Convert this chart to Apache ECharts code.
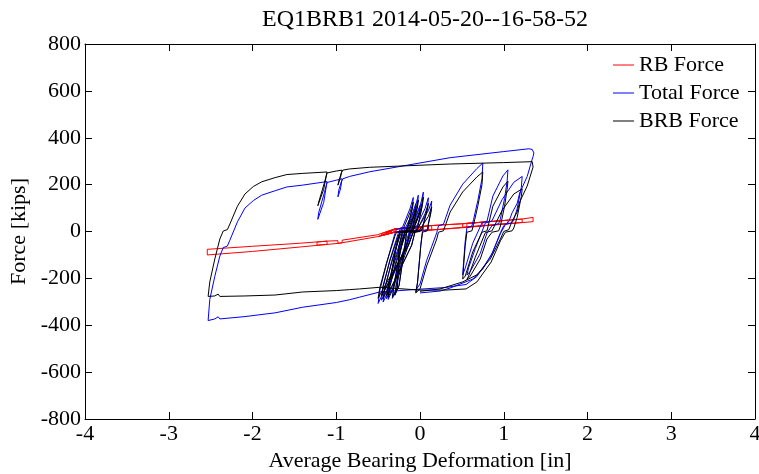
<!DOCTYPE html>
<html><head><meta charset="utf-8">
<script src="https://cdn.jsdelivr.net/npm/echarts@6/dist/echarts.min.js"></script>
<style>html,body{margin:0;padding:0;background:#fff}#c{width:759px;height:474px}</style>
</head><body><div id="c"></div>
<script>
const chartTitle = 'EQ1BRB1 2014-05-20--16-58-52';
const xName = 'Average Bearing Deformation [in]';
const yName = 'Force [kips]';
const seriesNames = ['RB Force', 'Total Force', 'BRB Force'];
const xTicks = [-4, -3, -2, -1, 0, 1, 2, 3, 4];
const yTicks = [-800, -600, -400, -200, 0, 200, 400, 600, 800];

// [deformation (in), force (kips)]
const rbForce = [
[0,0],[-0.30,-3],[-0.50,-22],[-0.50,-14],[-0.30,10],[-0.08,18],[-0.08,5],[-0.30,-2],[-0.44,-16],[-0.44,-8],
[-0.30,11],[-0.02,20],[-0.02,6],[-0.30,-1],[-0.38,-10],[-0.38,-3],[-0.30,11],[0.04,22],[0.04,6],[-0.30,-2],
[-0.46,-18],[-0.46,-9],[-0.30,11],[-0.05,19],[-0.05,4],[-0.30,-2],[-0.33,-5],[-0.33,3],[0.10,24],[0.10,6],
[-0.30,-2],[-0.40,-12],[-0.40,-2],[-0.30,11],[0.00,20],[0.00,5],[-0.30,-2],[-0.30,11],[0.14,25],[0.14,7],
[-0.05,3],[-0.05,19],[0.12,25],[0.50,33],[0.75,40],[0.75,24],[0.51,18],[0.51,33],[1.05,48],[1.05,34],
[0.56,19],[0.56,35],[1.22,53],[1.22,39],[0.55,19],[0.12,6],[-0.30,-2],[-0.51,-22],[-0.96,-50],[-1.43,-66],
[-2.00,-85],[-2.54,-100],[-2.54,-76],[-2.00,-63],[-1.43,-50],[-1.11,-41],[-1.11,-55],[-1.23,-58],[-1.23,-45],[-1.11,-41],
[-0.98,-39],[-0.98,-50],[-0.93,-48],[-0.93,-37],[-0.51,-14],[-0.30,11],[0.12,25],[0.50,33],[1.21,53],[1.35,60],
[1.35,42],[0.50,16],[0.12,6],[0.00,4]
];

const totalForce = [
[0,5],[-0.08,-1],[-0.14,-59],[-0.44,-261],[-0.50,-307],
[-0.48,-252],[-0.40,-137],[-0.30,-9],[-0.28,9],[-0.21,17],[-0.12,97],[-0.08,145],
[-0.09,102],[-0.14,31],[-0.16,4],[-0.24,-4],[-0.28,-62],[-0.38,-255],[-0.44,-301],
[-0.42,-244],[-0.34,-129],[-0.24,-7],[-0.22,11],[-0.15,19],[-0.06,99],[-0.02,155],
[-0.03,108],[-0.08,32],[-0.10,5],[-0.18,-3],[-0.22,-60],[-0.32,-244],[-0.38,-290],
[-0.36,-231],[-0.28,-118],[-0.18,-5],[-0.16,13],[-0.09,21],[0.00,105],[0.04,168],
[0.03,119],[-0.02,33],[-0.04,6],[-0.12,-2],[-0.16,-59],[-0.40,-251],[-0.46,-293],
[-0.44,-237],[-0.36,-122],[-0.26,-8],[-0.24,10],[-0.17,18],[-0.09,78],[-0.05,119],
[-0.06,78],[-0.11,27],[-0.13,4],[-0.21,-3],[-0.25,-61],[-0.27,-242],[-0.33,-285],
[-0.31,-225],[-0.23,-117],[-0.13,-3],[-0.11,14],[-0.04,23],[0.06,98],[0.10,144],
[0.09,100],[0.04,34],[0.02,7],[-0.06,0],[-0.10,-58],[-0.34,-241],[-0.40,-287],
[-0.38,-229],[-0.30,-114],[-0.20,-6],[-0.18,12],[-0.11,20],[-0.04,75],[0.00,111],
[-0.01,74],[-0.06,28],[-0.08,5],[-0.16,-2],[-0.18,-60],[-0.25,-231],[-0.30,-272],
[-0.28,-213],[-0.20,-106],[-0.10,-2],[-0.08,15],[-0.01,23],[0.10,89],[0.14,130],
[0.13,86],[0.10,35],[0.09,8],[0.03,1],[0.01,-56],[-0.03,-217],[-0.05,-259],
[-0.04,-245],[0.00,-224],[0.08,-123],[0.20,-5],[0.22,24],[0.28,31],[0.36,113],[0.51,202],[0.68,269],[0.75,292],
[0.74,225],[0.69,131],[0.64,52],[0.62,24],[0.56,16],[0.54,-41],[0.52,-132],[0.51,-185],
[0.54,-156],[0.63,-50],[0.74,37],[0.80,44],[0.87,151],[0.99,237],[1.05,263],
[1.04,214],[1.01,141],[0.96,54],[0.94,34],[0.86,25],[0.80,-6],[0.72,-93],[0.60,-170],[0.56,-186],
[0.58,-155],[0.66,-73],[0.78,36],[0.80,38],[0.86,46],[0.98,136],[1.12,210],[1.22,235],
[1.21,189],[1.16,97],[1.12,51],[1.10,38],[1.02,30],[0.96,-9],[0.85,-102],[0.68,-192],[0.55,-226],
[0.30,-239],[0.00,-246],[-0.48,-258],[-0.72,-280],[-0.84,-291],[-1.00,-303],[-1.40,-323],[-1.73,-347],[-2.09,-363],[-2.39,-373],[-2.41,-364],[-2.45,-373],[-2.53,-380],[-2.54,-378],
[-2.51,-290],[-2.45,-191],[-2.39,-105],[-2.35,-69],[-2.30,-62],[-2.27,-37],[-2.18,41],[-2.09,100],[-1.99,132],[-1.89,155],[-1.73,174],[-1.59,190],[-1.40,198],[-1.11,213],
[-1.15,124],[-1.22,52],[-1.21,80],[-1.14,168],[-1.11,209],
[-1.00,219],
[-0.93,225],[-0.95,181],[-0.98,148],[-0.97,176],[-0.94,212],[-0.92,225],
[-0.84,235],[-0.60,255],[0.36,315],[1.00,341],[1.30,353],[1.34,350],
[1.36,335],[1.35,320],[1.34,309],[1.28,235],[1.19,164],[1.16,120],[1.10,80],[1.06,42],[1.00,25],[0.96,-5],[0.87,-87],[0.75,-160],[0.63,-203],[0.36,-241],[0.24,-254],[0.00,-262]
];

const brbForce = [
[0,0],[-0.08,-3],[-0.14,-60],[-0.44,-245],[-0.50,-285],
[-0.48,-240],[-0.40,-135],[-0.30,-20],[-0.28,-3],[-0.21,3],[-0.12,80],[-0.08,126],
[-0.09,100],[-0.14,30],[-0.16,3],[-0.24,-3],[-0.28,-60],[-0.38,-245],[-0.44,-285],
[-0.42,-240],[-0.34,-135],[-0.24,-20],[-0.22,-3],[-0.15,3],[-0.06,80],[-0.02,135],
[-0.03,105],[-0.08,30],[-0.10,3],[-0.18,-3],[-0.22,-60],[-0.32,-240],[-0.38,-280],
[-0.36,-235],[-0.28,-130],[-0.18,-20],[-0.16,-3],[-0.09,3],[0.00,85],[0.04,147],
[0.03,115],[-0.02,30],[-0.04,3],[-0.12,-3],[-0.16,-60],[-0.40,-235],[-0.46,-275],
[-0.44,-230],[-0.36,-125],[-0.26,-20],[-0.24,-3],[-0.17,3],[-0.09,60],[-0.05,100],
[-0.06,75],[-0.11,25],[-0.13,3],[-0.21,-3],[-0.25,-60],[-0.27,-240],[-0.33,-280],
[-0.31,-235],[-0.23,-130],[-0.13,-20],[-0.11,-3],[-0.04,3],[0.06,75],[0.10,120],
[0.09,95],[0.04,30],[0.02,3],[-0.06,-3],[-0.10,-60],[-0.34,-235],[-0.40,-275],
[-0.38,-230],[-0.30,-125],[-0.20,-20],[-0.18,-3],[-0.11,3],[-0.04,55],[0.00,90],
[-0.01,70],[-0.06,25],[-0.08,3],[-0.16,-3],[-0.18,-60],[-0.25,-230],[-0.30,-270],
[-0.28,-225],[-0.20,-120],[-0.10,-20],[-0.08,-3],[-0.01,3],[0.10,65],[0.14,105],
[0.13,80],[0.10,30],[0.09,3],[0.03,-3],[0.01,-60],[-0.03,-220],[-0.05,-262],
[0.00,-245],[0.08,-147],[0.20,-32],[0.22,-3],[0.28,3],[0.36,83],[0.51,169],[0.68,233],[0.75,254],
[0.74,200],[0.69,108],[0.64,30],[0.62,3],[0.56,-3],[0.54,-60],[0.52,-150],[0.51,-203],
[0.54,-190],[0.63,-87],[0.74,-3],[0.80,3],[0.87,108],[0.99,190],[1.05,215],
[1.04,180],[1.01,108],[0.96,23],[0.94,3],[0.86,-3],[0.80,-32],[0.72,-117],[0.60,-190],[0.56,-205],
[0.58,-190],[0.66,-110],[0.78,-5],[0.80,-3],[0.86,3],[0.98,90],[1.12,160],[1.22,182],
[1.21,150],[1.16,60],[1.12,15],[1.10,3],[1.02,-3],[0.96,-40],[0.85,-130],[0.68,-215],[0.55,-245],
[0.30,-250],[0.00,-250],[-0.48,-238],[-0.72,-245],[-0.84,-248],[-1.00,-252],[-1.40,-258],[-1.73,-271],[-2.09,-275],[-2.39,-277],[-2.41,-267],[-2.45,-275],[-2.53,-277],[-2.54,-276],
[-2.51,-215],[-2.45,-117],[-2.39,-32],[-2.35,2],[-2.30,8],[-2.27,32],[-2.18,108],[-2.09,160],[-1.99,192],[-1.89,212],[-1.73,230],[-1.59,243],[-1.40,248],[-1.11,254],
[-1.15,180],[-1.22,110],[-1.21,125],[-1.14,210],[-1.11,250],
[-1.00,258],
[-0.93,262],[-0.95,230],[-0.98,198],[-0.97,215],[-0.94,250],[-0.92,262],
[-0.84,267],[-0.60,274],[0.36,288],[1.00,294],[1.34,298],
[1.36,292],[1.35,275],[1.34,267],[1.28,194],[1.19,126],[1.16,83],[1.10,45],[1.06,8],[1.00,0],[0.96,-32],[0.84,-117],[0.68,-185],[0.51,-215],[0.24,-245],[0.00,-255]
];

const seriesColors = ['#ff0000', '#0000ff', '#000000'];
const font = "'Liberation Serif', 'Times New Roman', serif";

const chart = echarts.init(document.getElementById('c'), null, {renderer: 'canvas'});

function axis(pos, showLabel, ticks, extra) {
  return Object.assign({
    type: 'value',
    position: pos,
    min: ticks[0],
    max: ticks[ticks.length - 1],
    interval: ticks[1] - ticks[0],
    axisLine: {show: true, onZero: false, lineStyle: {color: '#000', width: 1}},
    axisTick: {show: true, inside: true, length: 7, lineStyle: {color: '#000', width: 1}},
    axisLabel: {show: showLabel, color: '#000', fontFamily: font, fontSize: 22, margin: 4},
    splitLine: {show: false}
  }, extra || {});
}

const data = [rbForce, totalForce, brbForce];

chart.setOption({
  animation: false,
  backgroundColor: '#fff',
  title: {
    text: chartTitle, left: 420, top: 3, textAlign: 'center',
    textStyle: {fontFamily: font, fontSize: 24, fontWeight: 'normal', color: '#000'}
  },
  legend: {
    orient: 'vertical', left: 613, top: 54, padding: 0, itemGap: 6,
    itemWidth: 21, itemHeight: 1, icon: 'rect',
    textStyle: {fontFamily: font, fontSize: 22, color: '#000'},
    data: seriesNames
  },
  grid: {left: 85, right: 4, top: 44, bottom: 55, containLabel: false, outerBoundsMode: 'none'},
  xAxis: [
    axis('bottom', true, xTicks, {
      name: xName, nameLocation: 'middle', nameGap: 21,
      nameTextStyle: {fontFamily: font, fontSize: 22, color: '#000'}
    }),
    axis('top', false, xTicks)
  ],
  yAxis: [
    axis('left', true, yTicks, {
      name: yName, nameLocation: 'middle', nameGap: 46,
      nameTextStyle: {fontFamily: font, fontSize: 22, color: '#000'}
    }),
    axis('right', false, yTicks)
  ],
  series: seriesNames.map((n, i) => ({
    type: 'line', name: n, data: data[i],
    xAxisIndex: 0, yAxisIndex: 0,
    symbol: 'none', showSymbol: false, smooth: false,
    lineStyle: {color: seriesColors[i], width: 1},
    itemStyle: {color: seriesColors[i]},
    emphasis: {disabled: true},
    silent: true
  }))
});
</script></body></html>
